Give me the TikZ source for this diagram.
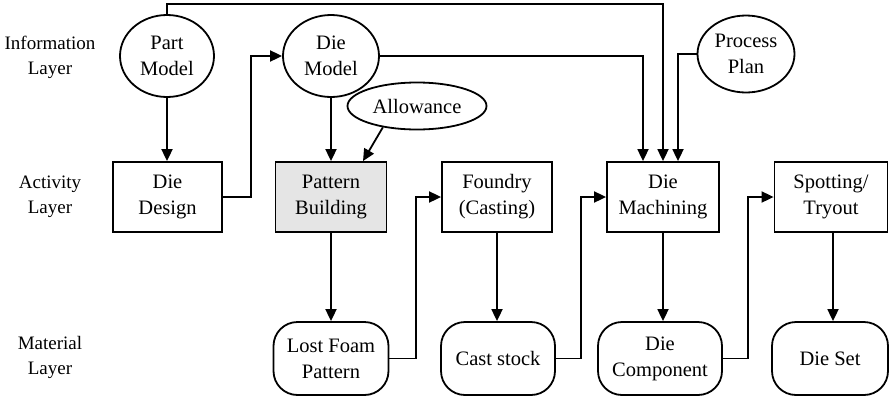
\documentclass[tikz,border=0pt]{standalone}
\usepackage{fontspec}
\setmainfont{Liberation Serif}
\usetikzlibrary{shapes.geometric,arrows.meta}

\begin{document}
\begin{tikzpicture}[x=1pt,y=-1pt,
  every node/.style={font=\fontsize{20.5}{26}\selectfont, align=center, line width=1.8pt},
  caption/.style={font=\fontsize{19}{25}\selectfont},
  info/.style={draw, ellipse, inner sep=0pt},
  act/.style={draw, rectangle, minimum height=70pt, inner sep=0pt},
  mat/.style={draw, rectangle, rounded corners=24pt, minimum height=73pt, inner sep=0pt},
  link/.style={line width=1.8pt, -{Triangle[length=12pt,width=11pt]}}
]
\useasboundingbox (0,0) rectangle (892,399);

% layer captions
\node[caption] (infoL) at (50,57) {Information\\Layer};
\node[caption] (actL) at (50,197) {Activity\\Layer};
\node[caption] (matL) at (50,357) {Material\\Layer};

% information layer
\node[info, minimum width=94pt, minimum height=82pt] (part) at (167,56) {Part\\Model};
\node[info, minimum width=96pt, minimum height=82pt] (diemod) at (331,56) {Die\\Model};
\node[info, minimum width=139pt, minimum height=47pt] (allow) at (417,106) {Allowance};
\node[info, minimum width=97pt, minimum height=77pt] (plan) at (746,54) {Process\\Plan};

% activity layer
\node[act, minimum width=109pt] (design) at (167.5,197) {Die\\Design};
\node[act, fill=gray!20, minimum width=111pt] (pattern) at (331,197) {Pattern\\Building};
\node[act, minimum width=110pt] (foundry) at (497,197) {Foundry\\(Casting)};
\node[act, minimum width=112pt] (machining) at (663,197) {Die\\Machining};
\node[act, minimum width=113pt] (spot) at (831,197) {Spotting/\\Tryout};

% material layer
\node[mat, minimum width=115pt] (foam) at (331,358.5) {Lost Foam\\Pattern};
\node[mat, minimum width=114pt] (cast) at (498,358.5) {Cast stock};
\node[mat, minimum width=124pt] (comp) at (660,358.5) {Die\\Component};
\node[mat, minimum width=116pt] (dieset) at (830,358.5) {Die Set};

% connectors
\draw[link] (part.south) -- (part.south |- design.north);
\draw[link] (design.east) -- ++(28,0) |- (diemod.west);
\draw[link] (part.north) -- ++(0,-10) -| (machining.north);
\draw[link] (diemod.east) -| ([xshift=-20pt]machining.north);
\draw[link] (plan.west) -| ([xshift=15pt]machining.north);
\draw[link] (allow.212) -- ([xshift=32pt]pattern.north);
\draw[link] (diemod.south) -- (diemod.south |- pattern.north);
\draw[link] (pattern.south) -- (pattern.south |- foam.north);
\draw[link] (foam.east) -- ++(26.5,0) |- (foundry.west);
\draw[link] (foundry.south) -- (foundry.south |- cast.north);
\draw[link] (cast.east) -- ++(25,0) |- (machining.west);
\draw[link] (machining.south) -- (machining.south |- comp.north);
\draw[link] (comp.east) -- ++(25,0) |- (spot.west);
\draw[link] ([xshift=2pt]spot.south) -- ([xshift=2pt]spot.south |- dieset.north);
\end{tikzpicture}
\end{document}
